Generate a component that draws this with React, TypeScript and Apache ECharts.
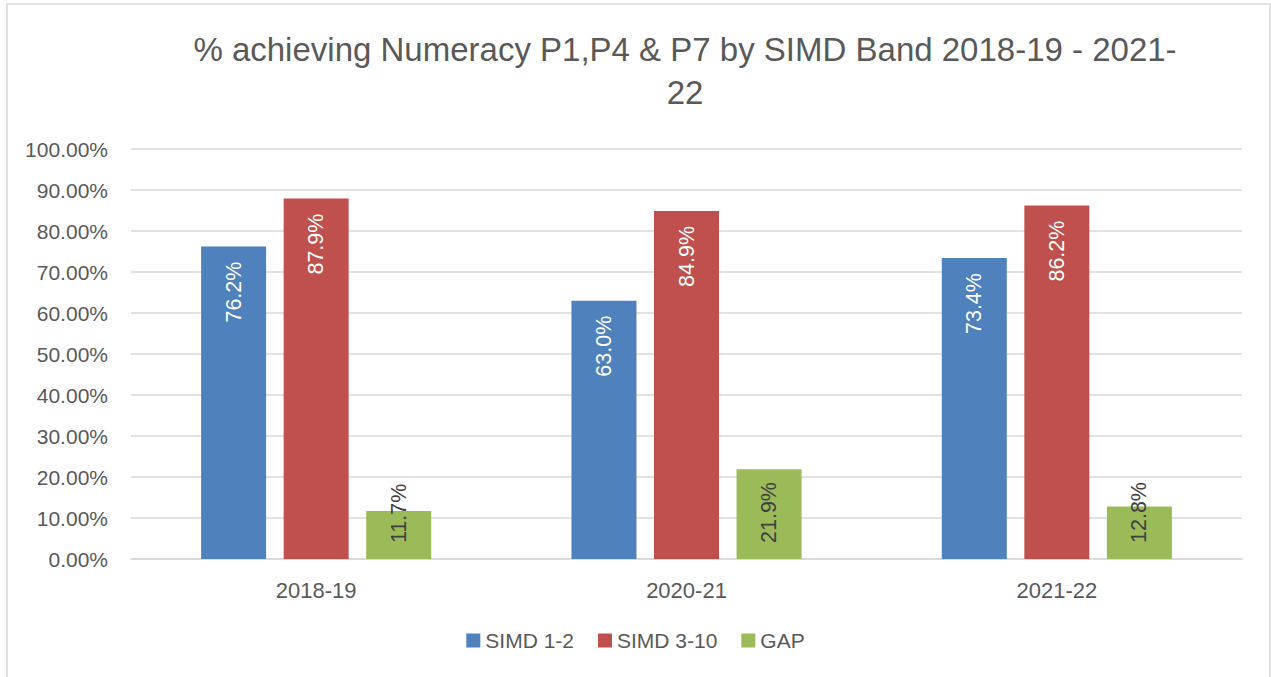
import React, { useEffect, useRef } from "react";
import * as echarts from "echarts";

const categories = ["2018-19", "2020-21", "2021-22"];
const simd12 = [76.2, 63.0, 73.4];
const simd310 = [87.9, 84.9, 86.2];
const gap = [11.7, 21.9, 12.8];
const titleText = "% achieving Numeracy P1,P4 & P7 by SIMD Band 2018-19 - 2021-\n22";

const FONT = "'Liberation Sans', Arial, sans-serif";

export default function App() {
  const ref = useRef<HTMLDivElement>(null);
  useEffect(() => {
    document.body.style.margin = "0";
    const chart = echarts.init(ref.current!, null, { renderer: "svg" });
    const topLabel = {
      show: true,
      position: "insideTop",
      rotate: 90,
      align: "right",
      verticalAlign: "middle",
      distance: 15,
      color: "#ffffff",
      fontSize: 21.5,
      fontFamily: FONT,
      formatter: (p: any) => p.value.toFixed(1) + "%",
    };
    chart.setOption({
      animation: false,
      backgroundColor: "#ffffff",
      textStyle: { fontFamily: FONT },
      title: {
        text: titleText,
        left: 680,
        textAlign: "center",
        top: 23,
        textStyle: {
          fontSize: 33,
          fontWeight: "normal",
          color: "#595959",
          lineHeight: 43,
          fontFamily: FONT,
        },
      },
      graphic: [
        {
          type: "rect",
          shape: { x: 7, y: 4, width: 1263, height: 700 },
          style: { fill: "none", stroke: "#d9d9d9", lineWidth: 1.5 },
          silent: true,
        },
      ],
      legend: {
        bottom: 21,
        left: "center",
        itemWidth: 14,
        itemHeight: 14,
        itemGap: 24,
        icon: "rect",
        textStyle: { fontSize: 21, color: "#595959", fontFamily: FONT },
        data: ["SIMD 1-2", "SIMD 3-10", "GAP"],
      },
      grid: { left: 131, right: 29, top: 149, bottom: 118, containLabel: false },
      xAxis: {
        type: "category",
        data: categories,
        axisTick: { show: false },
        axisLine: { lineStyle: { color: "#d9d9d9", width: 1.5 } },
        axisLabel: { fontSize: 22, color: "#595959", margin: 20, fontFamily: FONT },
      },
      yAxis: {
        type: "value",
        min: 0,
        max: 100,
        interval: 10,
        axisLine: { show: false },
        axisTick: { show: false },
        splitLine: { lineStyle: { color: "#d9d9d9", width: 1.5 } },
        axisLabel: {
          fontSize: 21,
          color: "#595959",
          margin: 23,
          fontFamily: FONT,
          formatter: (v: number) => v.toFixed(2) + "%",
        },
      },
      series: [
        {
          name: "SIMD 1-2",
          type: "bar",
          data: simd12,
          barWidth: 65,
          barGap: "27%",
          itemStyle: { color: "#4f81bd" },
          label: topLabel,
        },
        {
          name: "SIMD 3-10",
          type: "bar",
          data: simd310,
          barWidth: 65,
          barGap: "27%",
          itemStyle: { color: "#c0504d" },
          label: topLabel,
        },
        {
          name: "GAP",
          type: "bar",
          data: gap,
          barWidth: 65,
          barGap: "27%",
          itemStyle: { color: "#9bbb59" },
          label: {
            show: true,
            position: "insideBottom",
            rotate: 90,
            align: "left",
            verticalAlign: "middle",
            distance: 16,
            color: "#404040",
            fontSize: 21.5,
            fontFamily: FONT,
            formatter: (p: any) => p.value.toFixed(1) + "%",
          },
        },
      ],
    });
    return () => chart.dispose();
  }, []);
  return (
    <div
      ref={ref}
      style={{ position: "absolute", left: 0, top: 0, width: 1271, height: 677 }}
    />
  );
}
